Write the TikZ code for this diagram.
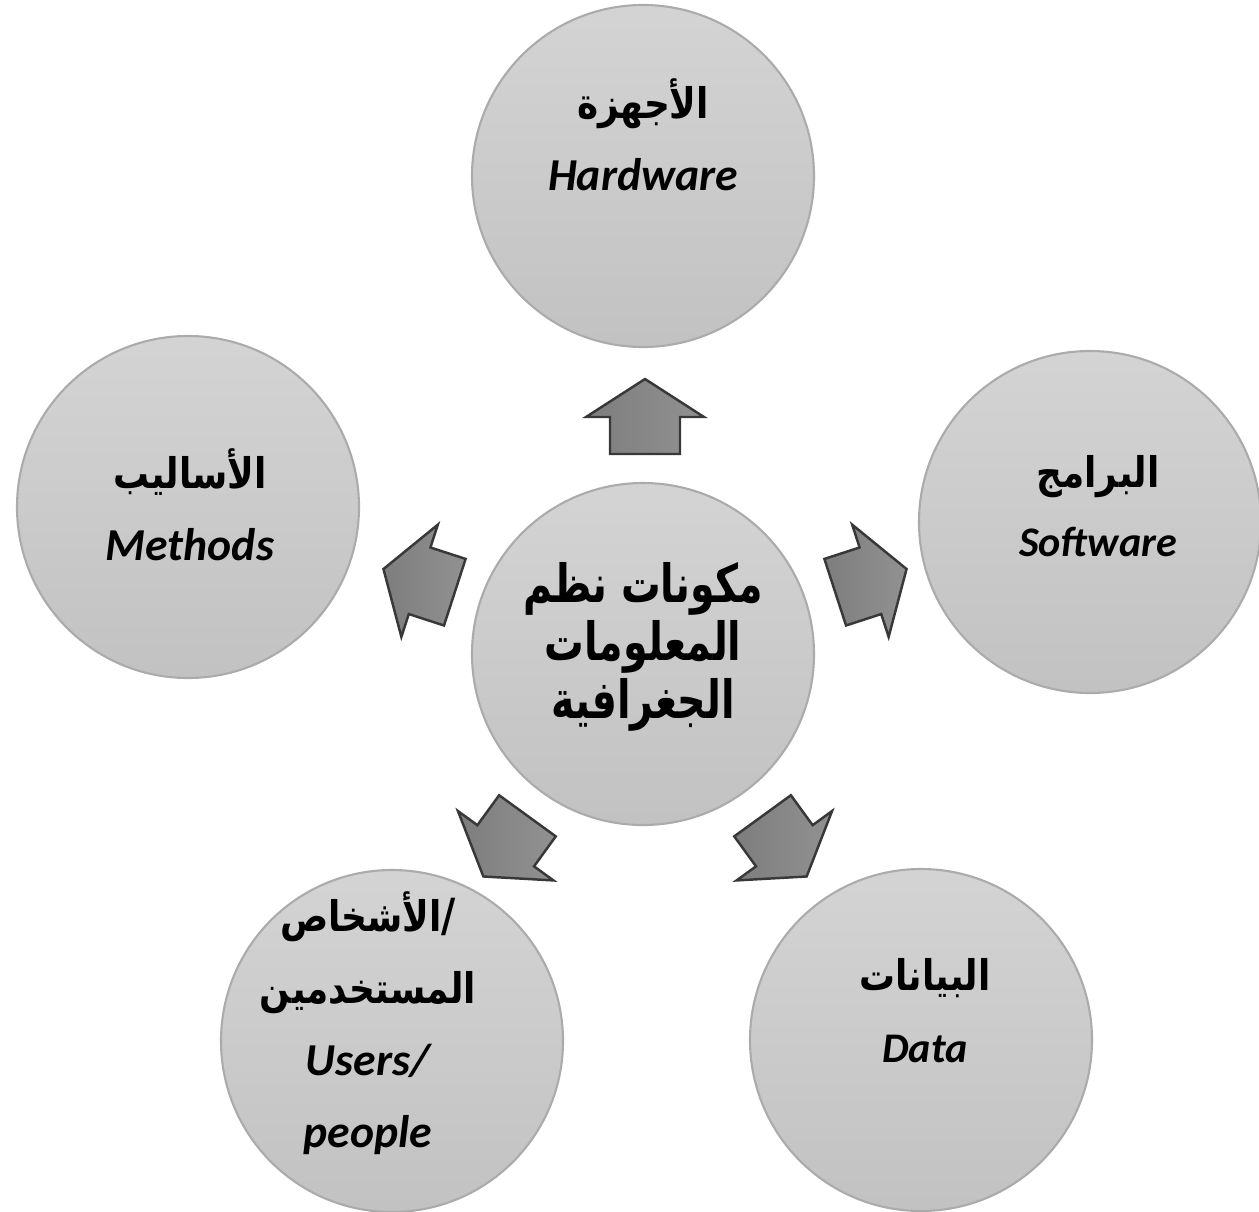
\documentclass[tikz,border=0pt]{standalone}
\usepackage{fontspec}
\usepackage{tikz}
\usetikzlibrary{positioning,calc}
\TeXXeTstate=1
\newfontfamily\arabicfont[Script=Arabic,FakeStretch=0.85]{DejaVu Sans}
\newfontfamily\corefont[Script=Arabic,FakeStretch=0.75]{DejaVu Sans}
\newfontfamily\latinfont{Carlito}[BoldFont=* Bold, ItalicFont=* Italic, BoldItalicFont=* Bold Italic]
\tikzstyle{disc} = [circle, draw=black!33, line width=0.6pt, top color=black!17, bottom color=black!24, minimum size=3.42cm, inner sep=0]
\tikzstyle{blockarrow} = [draw=black!78, line width=0.7pt, left color=black!51, right color=black!43]
\tikzstyle{caption} = [align=center, inner sep=0, font=\fontsize{13}{20.5}\selectfont]
\tikzstyle{title} = [align=center, inner sep=0, font=\corefont\bfseries\fontsize{15}{16.5}\selectfont]
\newcommand{\artxt}[1]{{\arabicfont\bfseries\fontsize{12}{20.5}\selectfont\beginR #1\endR}}
\newcommand{\entxt}[1]{{\latinfont\bfseries\itshape #1}}

\begin{document}
\begin{tikzpicture}
    \useasboundingbox (0,0) rectangle (12.59,12.11);
    % Core and the five components
    \node[disc] (core) at (6.43,5.57) {};
    \node[disc] (hardware) at (6.43,10.35) {};
    \node[disc] (software) at (10.90,6.89) {};
    \node[disc] (methods) at (1.88,7.04) {};
    \node[disc] (users) at (3.92,1.70) {};
    \node[disc] (data) at (9.21,1.71) {};
    % Block arrows out of the core
    \foreach \ang in {90,162,234,306,18}
    {
      \begin{scope}[shift={(6.45,5.57)}, rotate=\ang]
        \draw[blockarrow] (2.00,-0.35) -- (2.37,-0.35) -- (2.37,-0.59) -- (2.75,0)
          -- (2.37,0.59) -- (2.37,0.35) -- (2.00,0.35) -- cycle;
      \end{scope}
    }
    % Labels
    \node[title] (core label) at (6.43,5.64)
      {\beginR مكونات نظم\endR\\ \beginR المعلومات\endR\\ \beginR الجغرافية\endR};
    \node[caption] (hardware label) at (6.43,10.76) {\artxt{الأجهزة}\\ \entxt{Hardware}};
    \node[caption, font=\fontsize{12}{19.5}\selectfont] (software label) at (10.98,7.05) {\artxt{البرامج}\\ \entxt{Software}};
    \node[caption] (methods label) at (1.90,7.06) {\artxt{الأساليب}\\ \entxt{Methods}};
    \node[caption] (users label) at (3.68,1.88) {\artxt{الأشخاص}{\arabicfont\bfseries/}\\ \artxt{المستخدمين}\\ \entxt{Users/}\\ \entxt{people}};
    \node[caption, font=\fontsize{12}{20.5}\selectfont] (data label) at (9.25,2.00) {\artxt{البيانات}\\ \entxt{Data}};
\end{tikzpicture}
\end{document}
